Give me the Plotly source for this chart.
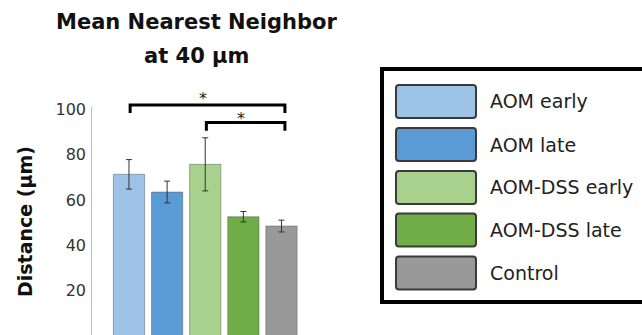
import plotly.graph_objects as go

# ---- data ----
categories = ["AOM early", "AOM late", "AOM-DSS early", "AOM-DSS late", "Control"]
means = [71.3, 63.5, 75.7, 52.6, 48.5]
errors = [6.5, 4.8, 11.7, 2.3, 2.6]
colors = ["#9DC3E6", "#5B9BD5", "#A9D18E", "#70AD47", "#999999"]
tick_values = [20, 40, 60, 80, 100]
comparisons = [(0, 4), (2, 4)]
comparison_levels = [101.9, 94.1]
comparison_labels = ["*", "*"]
title_lines = ["Mean Nearest Neighbor", "at 40 µm"]
y_title = "Distance (µm)"

W, H = 642, 335
def px(x):
    return x / W
def py(y):
    return 1 - y / H

FONT = "DejaVu Sans"

fig = go.Figure()
fig.add_trace(go.Bar(
    x=categories, y=means,
    marker=dict(color=colors, line=dict(color="rgba(80,80,80,0.45)", width=1)),
    error_y=dict(type="data", array=errors, visible=True, color="#333333",
                 thickness=1, width=3),
    showlegend=False,
))

shapes = []
annotations = []

# y axis line
shapes.append(dict(type="line", xref="paper", yref="y", x0=px(91.5), x1=px(91.5),
                   y0=0, y1=101, line=dict(color="#BDBDBD", width=1)))

# significance brackets
star_gaps = [3.0, 1.6]
for (a, b), lvl, lab, gap in zip(comparisons, comparison_levels, comparison_labels, star_gaps):
    xa, xb = a + 0.03, b + 0.09
    drop = 3.6
    shapes.append(dict(type="path", xref="x", yref="y",
                       path=f"M {xa},{lvl-drop} L {xa},{lvl} L {xb},{lvl} L {xb},{lvl-drop}",
                       line=dict(color="black", width=3)))
    annotations.append(dict(x=(xa + xb) / 2 - 0.12, y=lvl + gap, xref="x", yref="y",
                            text=lab, showarrow=False, xanchor="center", yanchor="middle",
                            font=dict(family=FONT, size=16, color="#222222")))

# title (two lines)
for txt, cy in zip(title_lines, [22, 56]):
    annotations.append(dict(x=px(196), y=py(cy), xref="paper", yref="paper",
                            text="<b>" + txt + "</b>",
                            showarrow=False, align="center", xanchor="center", yanchor="middle",
                            font=dict(family=FONT, size=21, color="#111111")))

# y axis title
annotations.append(dict(x=px(25), y=py(222), xref="paper", yref="paper",
                        text="<b>" + y_title + "</b>", textangle=-90,
                        showarrow=False, xanchor="center", yanchor="middle",
                        font=dict(family=FONT, size=19, color="#111111")))

# legend box
shapes.append(dict(type="rect", xref="paper", yref="paper",
                   x0=px(382), x1=px(670), y0=py(302), y1=py(69),
                   line=dict(color="black", width=4), fillcolor="rgba(0,0,0,0)"))
row_centers = [101.5, 144.5, 187.5, 230, 273]
r = 3
for name, col, cy in zip(categories, colors, row_centers):
    x0, x1, y0, y1 = 396, 476, cy - 16.5, cy + 16.5
    path = (f"M {px(x0+r)},{py(y0)} L {px(x1-r)},{py(y0)} Q {px(x1)},{py(y0)} {px(x1)},{py(y0+r)} "
            f"L {px(x1)},{py(y1-r)} Q {px(x1)},{py(y1)} {px(x1-r)},{py(y1)} "
            f"L {px(x0+r)},{py(y1)} Q {px(x0)},{py(y1)} {px(x0)},{py(y1-r)} "
            f"L {px(x0)},{py(y0+r)} Q {px(x0)},{py(y0)} {px(x0+r)},{py(y0)} Z")
    shapes.append(dict(type="path", xref="paper", yref="paper", path=path,
                       line=dict(color="#3a3a3a", width=2), fillcolor=col))
    annotations.append(dict(x=px(488), y=py(cy), xref="paper", yref="paper",
                            text=name, showarrow=False, xanchor="left", yanchor="middle",
                            font=dict(family=FONT, size=19, color="#222222")))

fig.update_layout(
    width=W, height=H,
    margin=dict(l=0, r=0, t=0, b=0),
    paper_bgcolor="white", plot_bgcolor="white",
    bargap=0.18,
    shapes=shapes, annotations=annotations,
    xaxis=dict(domain=[px(92), px(328)], range=[-0.97, 5.22], showticklabels=False,
               showgrid=False, zeroline=False, showline=False, ticks=""),
    yaxis=dict(domain=[0, py(87)], range=[0.46, 109.8], tickvals=tick_values,
               showgrid=False, zeroline=False, showline=False, ticks="",
               ticklabelstandoff=5,
               tickfont=dict(family=FONT, size=16, color="#333333")),
)

fig.write_html("out.html", config={"displayModeBar": False},
               post_script="document.body.style.margin='0px';document.body.style.overflow='hidden';")
